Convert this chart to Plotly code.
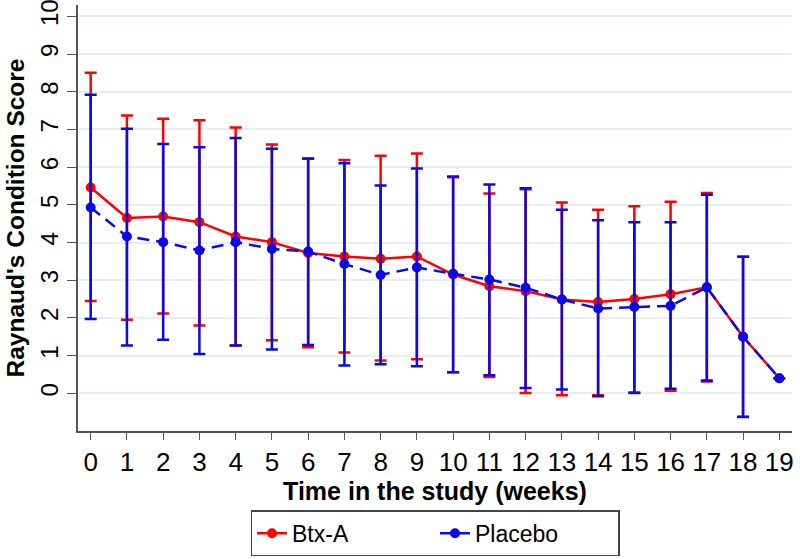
import plotly.graph_objects as go

weeks = list(range(20))
tick_labels = [str(w) for w in weeks]

btx_mean = [5.46, 4.65, 4.69, 4.54, 4.16, 4.01, 3.72, 3.63, 3.57, 3.63,
            3.15, 2.84, 2.71, 2.49, 2.42, 2.50, 2.63, 2.81, 1.50, 0.40]
btx_upper = [8.50, 7.37, 7.28, 7.24, 7.05, 6.60, 6.22, 6.19, 6.30, 6.36,
             5.73, 5.30, 5.41, 5.06, 4.87, 4.96, 5.08, 5.31, 3.62, None]
btx_lower = [2.45, 1.95, 2.12, 1.80, 1.27, 1.41, 1.22, 1.08, 0.87, 0.90,
             0.56, 0.43, 0.01, -0.05, -0.05, 0.02, 0.07, 0.31, -0.62, None]

plc_mean = [4.93, 4.16, 4.01, 3.79, 4.01, 3.83, 3.76, 3.43, 3.14, 3.34,
            3.17, 3.02, 2.80, 2.49, 2.25, 2.29, 2.32, 2.81, 1.50, 0.40]
plc_upper = [7.92, 7.02, 6.61, 6.53, 6.77, 6.49, 6.23, 6.10, 5.51, 5.96,
             5.75, 5.54, 5.44, 4.87, 4.59, 4.54, 4.54, 5.27, 3.62, None]
plc_lower = [1.97, 1.27, 1.42, 1.04, 1.27, 1.16, 1.28, 0.74, 0.77, 0.72,
             0.56, 0.48, 0.14, 0.10, -0.08, 0.01, 0.12, 0.34, -0.63, None]

RED = "#ff0000"
BLUE = "#0a0ae6"
FONT = "Liberation Sans, Arial, sans-serif"


def err(mean, up, lo):
    plus = [(u - m) if u is not None else 0 for m, u in zip(mean, up)]
    minus = [(m - l) if l is not None else 0 for m, l in zip(mean, lo)]
    return plus, minus


bp, bm = err(btx_mean, btx_upper, btx_lower)
pp, pm = err(plc_mean, plc_upper, plc_lower)

fig = go.Figure()
fig.add_trace(go.Scatter(
    x=weeks, y=btx_mean, name="Btx-A", mode="lines+markers",
    line=dict(color=RED, width=2.5),
    marker=dict(color=RED, size=10),
    error_y=dict(type="data", symmetric=False, array=bp, arrayminus=bm,
                 color=RED, thickness=2.5, width=6),
))
fig.add_trace(go.Scatter(
    x=weeks, y=plc_mean, name="Placebo", mode="lines+markers",
    line=dict(color=BLUE, width=2.5, dash="12px,7px"),
    marker=dict(color=BLUE, size=10),
    error_y=dict(type="data", symmetric=False, array=pp, arrayminus=pm,
                 color=BLUE, thickness=2.5, width=6),
))

fig.update_layout(
    width=800, height=559,
    margin=dict(l=78, r=8, t=5, b=128, autoexpand=False),
    paper_bgcolor="white", plot_bgcolor="white",
    font=dict(family=FONT, color="black", size=22),
    showlegend=True,
    legend=dict(
        orientation="h", x=0.5, xanchor="center", y=-0.186, yanchor="top",
        bordercolor="#444444", borderwidth=1.5,
        font=dict(size=23, family=FONT, color="black"),
        entrywidth=138, entrywidthmode="pixels",
    ),
    hovermode=False,
)
fig.update_xaxes(
    range=[-0.35, 19.35], tickmode="array", tickvals=weeks, ticktext=tick_labels,
    showgrid=False, zeroline=False, automargin=False,
    showline=True, linecolor="#555555", linewidth=1.5,
    ticks="outside", ticklen=7, tickcolor="#555555", tickwidth=1.2,
    tickfont=dict(size=26, family=FONT, color="black"),
    ticklabeloverflow="allow",
    title=dict(text="<b>Time in the study (weeks)</b>", font=dict(size=25, family=FONT), standoff=0),
)
fig.update_yaxes(
    range=[-1, 10.3], tickmode="array", tickvals=list(range(11)),
    ticktext=[str(v) for v in range(11)],
    showgrid=True, gridcolor="#e6eef1", gridwidth=1.5, zeroline=False, automargin=False,
    showline=True, linecolor="#555555", linewidth=1.5,
    ticks="outside", ticklen=9, tickcolor="#555555", tickwidth=1.2,
    tickangle=-90, ticklabelstandoff=0, ticklabeloverflow="allow",
    tickfont=dict(size=24, family=FONT, color="black"),
    title=dict(text="<b>Raynaud's Condition Score</b>", font=dict(size=24.5, family=FONT), standoff=4),
)

fig.write_html("out.html", config={"displayModeBar": False},
               post_script="document.body.style.margin='0';document.body.style.padding='0';")
